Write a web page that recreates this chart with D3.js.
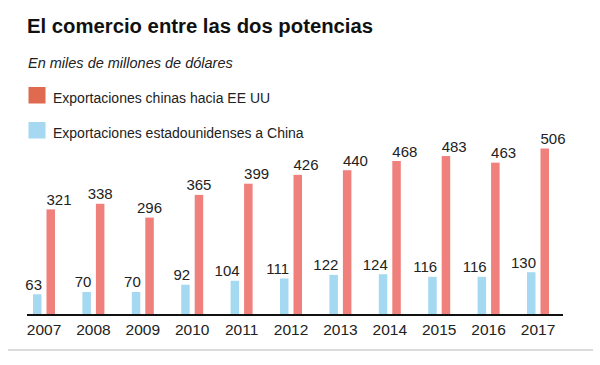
<!DOCTYPE html>
<html><head><meta charset="utf-8">
<script src="https://cdn.jsdelivr.net/npm/d3@7"></script>
<style>body{margin:0;background:#fff}svg{display:block}</style>
</head><body>
<svg id="c" width="600" height="365"></svg>
<script>
const years = ["2007","2008","2009","2010","2011","2012","2013","2014","2015","2016","2017"];
const chinaToUS = [321,338,296,365,399,426,440,468,483,463,506];
const usToChina = [63,70,70,92,104,111,122,124,116,116,130];
const seriesNames = ["Exportaciones chinas hacia EE UU","Exportaciones estadounidenses a China"];
const title = "El comercio entre las dos potencias";
const subtitle = "En miles de millones de dólares";

const centeredRedLabels = ["2008","2009","2010"];
const redBar = "#ef807c", blueBar = "#a5d9f1", redKey = "#e06a4f", blueKey = "#a7d8f1";
const font = "'Liberation Sans', Arial, sans-serif";

const svg = d3.select("#c");
const x = d3.scaleBand().domain(years).range([19.3, 562.7]).padding(0);
const y = d3.scaleLinear().domain([0, 506]).range([315, 148.5]);
const bw = 8.5;
const cx = d => x(d) + x.bandwidth()/2;

svg.append("text").attr("x",27).attr("y",33).attr("font-family",font).attr("font-weight","bold")
  .attr("font-size",20.3).attr("fill","#111").text(title);
svg.append("text").attr("x",28).attr("y",68).attr("font-family",font).attr("font-style","italic")
  .attr("font-size",14.5).attr("fill","#222").text(subtitle);

const keys = [[redKey, 87], [blueKey, 122]];
keys.forEach((k,i)=>{
  svg.append("rect").attr("x",28.5).attr("y",k[1]).attr("width",17).attr("height",16.5).attr("fill",k[0]);
  svg.append("text").attr("x",53).attr("y",k[1]+16).attr("font-family",font).attr("font-size",14)
    .attr("fill","#222").text(seriesNames[i]);
});

const g = svg.append("g");
g.selectAll(".b").data(years).join("rect").attr("class","b")
  .attr("x", d=>cx(d)-11).attr("width",bw)
  .attr("y",(d,i)=>y(usToChina[i])).attr("height",(d,i)=>y(0)-y(usToChina[i])).attr("fill",blueBar);
g.selectAll(".r").data(years).join("rect").attr("class","r")
  .attr("x", d=>cx(d)+2.5).attr("width",bw)
  .attr("y",(d,i)=>y(chinaToUS[i])).attr("height",(d,i)=>y(0)-y(chinaToUS[i])).attr("fill",redBar);

g.selectAll(".bl").data(years).join("text").attr("class","bl")
  .attr("x", d=>cx(d)-11+bw+0.5).attr("y",(d,i)=>y(usToChina[i])-4.5)
  .attr("text-anchor","end").attr("font-family",font).attr("font-size",15).attr("fill","#222")
  .text((d,i)=>usToChina[i]);
g.selectAll(".rl").data(years).join("text").attr("class","rl")
  .attr("x", d=> centeredRedLabels.includes(d) ? cx(d)+2.5+bw/2 : cx(d)+2.5)
  .attr("text-anchor", d=> centeredRedLabels.includes(d) ? "middle" : "start")
  .attr("y",(d,i)=>y(chinaToUS[i])-4.5)
  .attr("font-family",font).attr("font-size",15).attr("fill","#222")
  .text((d,i)=>chinaToUS[i]);

const axis = d3.axisBottom(x).tickSize(0).tickPadding(0);
const ax = svg.append("g").attr("transform",`translate(0,${y(0)})`).call(axis);
ax.select(".domain").attr("d","M27,0H563").attr("stroke","#111").attr("stroke-width",2);
ax.selectAll("text").attr("y",19.5).attr("dy",0).attr("font-family",font).attr("font-size",15.5).attr("fill","#222");

svg.append("line").attr("x1",8).attr("x2",593).attr("y1",350).attr("y2",350).attr("stroke","#cfcfcf").attr("stroke-width",1.5);
</script>
</body></html>
